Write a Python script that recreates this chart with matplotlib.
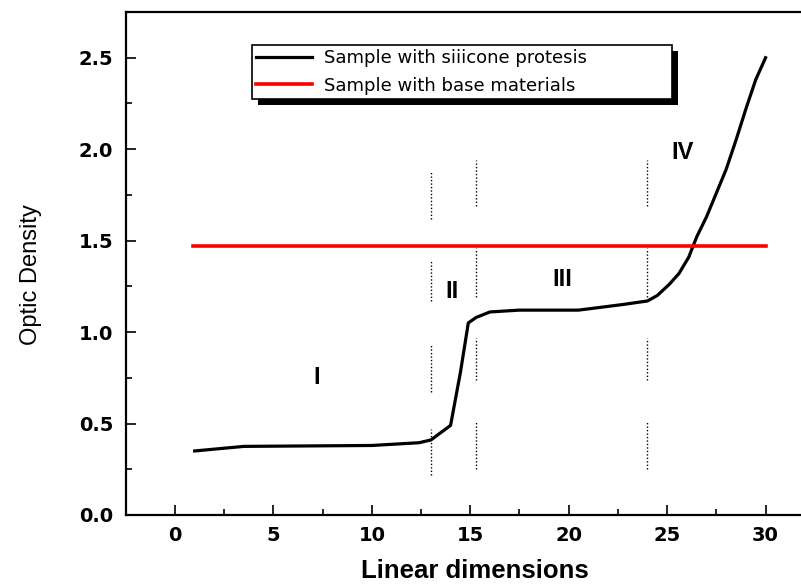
import matplotlib
matplotlib.use("Agg")
import matplotlib.pyplot as plt
from matplotlib.patches import Rectangle
from matplotlib.ticker import MultipleLocator

# sample with silicone protesis
x_sil = [1, 2.5, 3.5, 10, 12.4, 13, 13.5, 14, 14.5, 14.9, 15.3, 16, 17.5, 20.5,
         22.7, 24, 24.5, 25.1, 25.6, 26.1, 26.5, 27, 27.5, 28, 28.5, 29, 29.5, 30]
y_sil = [0.35, 0.365, 0.375, 0.38, 0.395, 0.41, 0.45, 0.49, 0.78, 1.05, 1.08, 1.11,
         1.12, 1.12, 1.15, 1.17, 1.2, 1.26, 1.32, 1.41, 1.52, 1.63, 1.76, 1.89,
         2.05, 2.22, 2.38, 2.5]

# base materials
x_base = [0.9, 30]
y_base = [1.47, 1.47]

# zone borders, dotted pieces
borders = [13, 15.3, 24]
segs = {
    13: [(1.62, 1.88), (1.17, 1.39), (0.67, 0.93), (0.22, 0.47)],
    15.3: [(1.69, 1.94), (1.19, 1.46), (0.74, 0.97), (0.25, 0.51)],
    24: [(1.69, 1.94), (1.19, 1.46), (0.74, 0.97), (0.25, 0.51)],
}

zones = ["I", "II", "III", "IV"]
zone_x = [7.2, 14.05, 19.7, 25.8]
zone_y = [0.75, 1.22, 1.29, 1.98]

fig = plt.figure(figsize=(8.01, 5.85), dpi=100)
ax = fig.add_axes([0.157, 0.1197, 0.843, 0.8598])

l1, = ax.plot(x_sil, y_sil, color="black", lw=2.3, label="Sample with siiicone protesis")
l2, = ax.plot(x_base, y_base, color="red", lw=2.6, label="Sample with base materials")

for b in borders:
    for lo, hi in segs[b]:
        ax.plot([b, b], [lo, hi], color="black", lw=1, ls=(0, (1, 1.5)))

for s, zx, zy in zip(zones, zone_x, zone_y):
    ax.text(zx, zy, s, ha="center", va="center", fontsize=17, fontweight="bold",
            family="Liberation Sans")

ax.set_xlim(-2.5, 31.8)
ax.set_ylim(0, 2.75)
ax.xaxis.set_major_locator(MultipleLocator(5))
ax.xaxis.set_minor_locator(MultipleLocator(2.5))
ax.yaxis.set_major_locator(MultipleLocator(0.5))
ax.yaxis.set_minor_locator(MultipleLocator(0.25))
ax.set_yticks([0, 0.5, 1.0, 1.5, 2.0, 2.5])
ax.set_yticklabels(["0.0", "0.5", "1.0", "1.5", "2.0", "2.5"])
ax.tick_params(which="both", direction="in", width=1.2)
ax.tick_params(which="major", length=7)
ax.tick_params(which="minor", length=4)
ax.tick_params(axis="y", pad=9)
ax.tick_params(axis="x", pad=8)
for lab in ax.get_xticklabels() + ax.get_yticklabels():
    lab.set_fontweight("bold")
    lab.set_fontsize(14)
    lab.set_family("DejaVu Sans")

for sp in ["left", "bottom", "top"]:
    ax.spines[sp].set_linewidth(1.6)
ax.spines["right"].set_visible(False)

fig.text(31 / 801, 1 - 275 / 585, "Optic Density", rotation=90, ha="center", va="center",
         fontsize=17, family="Liberation Sans")
fig.text(475 / 801, 1 - 571 / 585, "Linear dimensions", ha="center", va="center",
         fontsize=18.5, fontweight="bold", family="Liberation Sans")

leg = ax.legend(handles=[l1, l2], loc="upper left",
                bbox_to_anchor=(0.1867, 0.834, 0.6223, 0.1), mode="expand",
                borderaxespad=0, fancybox=False, framealpha=1, edgecolor="black",
                prop={"family": "DejaVu Sans", "size": 13}, handlelength=3.1,
                labelspacing=0.52, borderpad=0.22, handletextpad=0.7)
leg.get_frame().set_linewidth(1.2)

fig.canvas.draw()
bb = leg.get_window_extent()
shadow = Rectangle((bb.x0 + 6, bb.y0 - 6), bb.width, bb.height, transform=None,
                   facecolor="black", edgecolor="none", zorder=4.9, clip_on=False)
ax.add_artist(shadow)

fig.savefig("out.png", dpi=100)
